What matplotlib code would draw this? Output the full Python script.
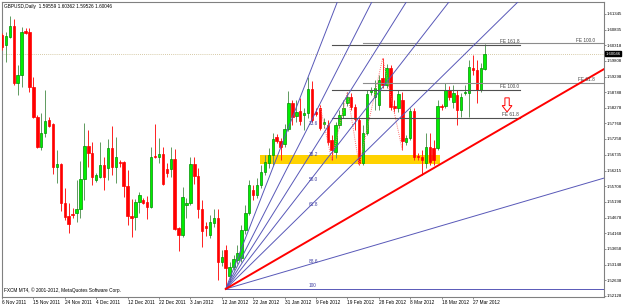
import numpy as np
import matplotlib
matplotlib.use("Agg")
import matplotlib.pyplot as plt
from matplotlib.patches import Rectangle, Polygon
import matplotlib.transforms as mtransforms

# --------------------------------------------------------------------
# GBPUSD daily candles (6 Nov 2011 .. 28 Mar 2012)
# --------------------------------------------------------------------
opens = [1.6066, 1.6033, 1.6059, 1.6095, 1.5909, 1.5935, 1.6079, 1.6075, 1.5896, 1.5797,
         1.5699, 1.5745, 1.5788, 1.5775, 1.5634, 1.5644, 1.5516, 1.5474, 1.5480, 1.5484,
         1.5497, 1.5595, 1.5703, 1.5680, 1.5591, 1.5601, 1.5640, 1.5631, 1.5696, 1.5634,
         1.5650, 1.5650, 1.5572, 1.5474, 1.5470, 1.5519, 1.5526, 1.5519, 1.5503, 1.5670,
         1.5667, 1.5676, 1.5627, 1.5627, 1.5660, 1.5434, 1.5412, 1.5510, 1.5516, 1.5644,
         1.5604, 1.5497, 1.5441, 1.5412, 1.5451, 1.5467, 1.5323, 1.5363, 1.5278, 1.5307,
         1.5330, 1.5336, 1.5428, 1.5484, 1.5559, 1.5542, 1.5575, 1.5618, 1.5647, 1.5673,
         1.5732, 1.5719, 1.5709, 1.5758, 1.5843, 1.5801, 1.5817, 1.5804, 1.5810, 1.5889,
         1.5814, 1.5827, 1.5775, 1.5771, 1.5722, 1.5683, 1.5771, 1.5804, 1.5843, 1.5863,
         1.5830, 1.5788, 1.5647, 1.5745, 1.5879, 1.5863, 1.5837, 1.5925, 1.5902, 1.5958,
         1.5833, 1.5827, 1.5853, 1.5716, 1.5729, 1.5817, 1.5670, 1.5667, 1.5647, 1.5699,
         1.5696, 1.5696, 1.5833, 1.5833, 1.5886, 1.5847, 1.5869, 1.5820, 1.5876, 1.5876,
         1.5958, 1.5951, 1.5886, 1.59559]
highs = [1.6072, 1.6075, 1.6128, 1.6118, 1.5967, 1.6092, 1.6088, 1.6088, 1.5928, 1.5804,
         1.5810, 1.5886, 1.5797, 1.5778, 1.5690, 1.5647, 1.5565, 1.5516, 1.5500, 1.5591,
         1.5654, 1.5778, 1.5755, 1.5716, 1.5614, 1.5716, 1.5667, 1.5725, 1.5768, 1.5732,
         1.5657, 1.5654, 1.5624, 1.5529, 1.5529, 1.5552, 1.5533, 1.5539, 1.5699, 1.5775,
         1.5729, 1.5699, 1.5647, 1.5699, 1.5693, 1.5438, 1.5569, 1.5533, 1.5667, 1.5667,
         1.5631, 1.5526, 1.5454, 1.5477, 1.5497, 1.5497, 1.5363, 1.5379, 1.5323, 1.5346,
         1.5379, 1.5444, 1.5510, 1.5591, 1.5575, 1.5598, 1.5640, 1.5673, 1.5696, 1.5745,
         1.5742, 1.5729, 1.5775, 1.5882, 1.5853, 1.5853, 1.5860, 1.5827, 1.5928, 1.5915,
         1.5827, 1.5837, 1.5794, 1.5788, 1.5739, 1.5781, 1.5820, 1.5853, 1.5879, 1.5876,
         1.5840, 1.5794, 1.5771, 1.5886, 1.5896, 1.5918, 1.5935, 1.5990, 1.5971, 1.5967,
         1.5853, 1.5886, 1.5879, 1.5739, 1.5827, 1.5827, 1.5680, 1.5690, 1.5745, 1.5745,
         1.5722, 1.5853, 1.5840, 1.5909, 1.5899, 1.5902, 1.5886, 1.5876, 1.5902, 1.5984,
         1.6000, 1.5984, 1.5974, 1.60362]
lows = [1.6017, 1.5977, 1.6056, 1.5902, 1.5869, 1.5896, 1.6069, 1.5879, 1.5794, 1.5696,
        1.5690, 1.5732, 1.5765, 1.5611, 1.5582, 1.5490, 1.5461, 1.5418, 1.5467, 1.5454,
        1.5467, 1.5526, 1.5634, 1.5575, 1.5585, 1.5598, 1.5559, 1.5591, 1.5608, 1.5582,
        1.5634, 1.5536, 1.5444, 1.5405, 1.5428, 1.5484, 1.5513, 1.5464, 1.5500, 1.5663,
        1.5647, 1.5575, 1.5601, 1.5601, 1.5428, 1.5359, 1.5405, 1.5467, 1.5510, 1.5578,
        1.5467, 1.5372, 1.5408, 1.5402, 1.5438, 1.5264, 1.5310, 1.5235, 1.5258, 1.5297,
        1.5317, 1.5323, 1.5415, 1.5477, 1.5526, 1.5533, 1.5565, 1.5608, 1.5631, 1.5640,
        1.5712, 1.5657, 1.5699, 1.5752, 1.5771, 1.5781, 1.5771, 1.5755, 1.5794, 1.5781,
        1.5801, 1.5755, 1.5761, 1.5706, 1.5657, 1.5663, 1.5761, 1.5794, 1.5833, 1.5820,
        1.5755, 1.5640, 1.5640, 1.5739, 1.5869, 1.5820, 1.5820, 1.5892, 1.5892, 1.5820,
        1.5814, 1.5814, 1.5690, 1.5706, 1.5722, 1.5657, 1.5657, 1.5608, 1.5631, 1.5640,
        1.5640, 1.5690, 1.5820, 1.5827, 1.5853, 1.5827, 1.5771, 1.5797, 1.5869, 1.5797,
        1.5935, 1.5843, 1.5879, 1.59526]
closes = [1.6026, 1.6062, 1.6095, 1.5909, 1.5935, 1.6075, 1.6072, 1.5896, 1.5797, 1.5699,
          1.5745, 1.5784, 1.5768, 1.5634, 1.5644, 1.5516, 1.5470, 1.5448, 1.5477, 1.5497,
          1.5595, 1.5703, 1.5680, 1.5601, 1.5608, 1.5640, 1.5601, 1.5696, 1.5634, 1.5667,
          1.5647, 1.5572, 1.5474, 1.5467, 1.5519, 1.5542, 1.5516, 1.5503, 1.5667, 1.5667,
          1.5676, 1.5578, 1.5614, 1.5660, 1.5431, 1.5412, 1.5536, 1.5516, 1.5644, 1.5604,
          1.5497, 1.5425, 1.5434, 1.5454, 1.5467, 1.5323, 1.5340, 1.5304, 1.5307, 1.5333,
          1.5353, 1.5428, 1.5484, 1.5575, 1.5542, 1.5575, 1.5618, 1.5650, 1.5673, 1.5725,
          1.5719, 1.5699, 1.5758, 1.5843, 1.5797, 1.5814, 1.5784, 1.5810, 1.5889, 1.5788,
          1.5807, 1.5761, 1.5781, 1.5716, 1.5690, 1.5771, 1.5804, 1.5827, 1.5863, 1.5830,
          1.5791, 1.5647, 1.5745, 1.5873, 1.5886, 1.5892, 1.5918, 1.5902, 1.5958, 1.5830,
          1.5827, 1.5873, 1.5719, 1.5729, 1.5817, 1.5667, 1.5667, 1.5657, 1.5699, 1.5650,
          1.5657, 1.5833, 1.5830, 1.5886, 1.5863, 1.5876, 1.5820, 1.5863, 1.5879, 1.5961,
          1.5951, 1.5886, 1.5958, 1.60046]

date_labels = ["6 Nov 2011", "15 Nov 2011", "24 Nov 2011", "4 Dec 2011", "12 Dec 2011",
               "22 Dec 2011", "3 Jan 2012", "12 Jan 2012", "22 Jan 2012", "31 Jan 2012",
               "9 Feb 2012", "19 Feb 2012", "28 Feb 2012", "8 Mar 2012", "18 Mar 2012",
               "27 Mar 2012"]
date_step = 8
price_ticks = [1.61345, 1.60835, 1.60318, 1.59808, 1.59298, 1.58788, 1.58278, 1.57768,
               1.57258, 1.56735, 1.56215, 1.55708, 1.55198, 1.54678, 1.54168, 1.53658,
               1.53148, 1.52638, 1.52128]

# Fibonacci fan: low of bar 57 -> high of bar 78
fan_bar1, fan_bar2 = 57, 78
fan_levels = [0.0, 23.6, 38.2, 50.0, 61.8, 88.6, 100.0]
fan_labels = ["", "23.6", "38.2", "50.0", "61.8", "88.6", "100"]

# red trend line through two lows
trend_bars = [57, 107]

# Fibonacci expansions
fe_a_prices = [1.5794, 1.5886, 1.6033]
fe_a_labels = ["FE 61.8", "FE 100.0", "FE 161.8"]
fe_a_span = (84, 132)
fe_b_prices = [1.5909, 1.6039]
fe_b_labels = ["FE 61.8", "FE 100.0"]
fe_b_start = 92

# support zone
zone_bars = (65.7, 111.5)
zone_prices = (1.5644, 1.5673)

# zigzag swing points
zz_bars = [81, 84, 88, 91, 97, 102]
zz_kind = ["H", "L", "H", "L", "H", "L"]

# down arrow marker
arrow_bar, arrow_top, arrow_bottom = 128.7, 1.5860, 1.5814

XMIN, XMAX = 0.0, 153.4
YMIN, YMAX = 1.52088, 1.61735

FONT = ["Liberation Sans", "DejaVu Sans"]
FS = 3.4
FS_Y = 3.1

o = np.array(opens); h = np.array(highs); l = np.array(lows); c = np.array(closes)
idx = np.arange(len(o))
up = c >= o

fig = plt.figure(figsize=(6.25, 3.06), dpi=100)
ax = fig.add_axes([2 / 625, 9 / 306, 602 / 625, 295 / 306])
ax.set_xlim(XMIN, XMAX)
ax.set_ylim(YMIN, YMAX)

# zone
ax.add_patch(Rectangle((zone_bars[0], zone_prices[0]), zone_bars[1] - zone_bars[0],
                       zone_prices[1] - zone_prices[0], facecolor="#ffd200",
                       edgecolor="none", zorder=1))

# current price line
ax.axhline(c[-1], color="#c8b98a", lw=0.6, ls=(0, (1, 1.5)), zorder=1)

# candles
wick_col = np.where(up, "#5f9a5f", "#ff2020")
ax.vlines(idx, l, h, colors=wick_col, lw=0.7, zorder=3)
body_low = np.minimum(o, c)
body_h = np.maximum(np.abs(c - o), 0.00012)
ax.bar(idx, body_h, bottom=body_low, width=0.62,
       color=np.where(up, "#00ee00", "#ff0000"),
       edgecolor=np.where(up, "#009000", "#ff0000"), linewidth=0.5, zorder=4)

# zigzag
zz_y = [h[b] if k == "H" else l[b] for b, k in zip(zz_bars, zz_kind)]
ax.plot(zz_bars, zz_y, color="#ff7070", lw=0.7, ls=(0, (1, 1.2)), zorder=5)

# fibonacci fan
p1, p2 = l[fan_bar1], h[fan_bar2]
xs = np.array([fan_bar1, XMAX + 5])
for lev, lab in zip(fan_levels, fan_labels):
    target = p2 - lev / 100 * (p2 - p1)
    slope = (target - p1) / (fan_bar2 - fan_bar1)
    ax.plot(xs, p1 + slope * (xs - fan_bar1), color="#5858b8", lw=0.7, zorder=6)
    if lab:
        ax.text(fan_bar2 + 0.2, target + 0.0003, lab, fontsize=FS, family=FONT,
                color="#3c3ca0", ha="left", va="bottom", zorder=7)

# red trend line
tb0, tb1 = trend_bars
tslope = (l[tb1] - l[tb0]) / (tb1 - tb0)
ax.plot(xs, l[tb0] + tslope * (xs - tb0), color="#ff0000", lw=1.4, zorder=6)

# fibonacci expansions
for p, lab in zip(fe_a_prices, fe_a_labels):
    ax.plot(fe_a_span, [p, p], color="#505050", lw=0.8, zorder=5)
    ax.text(fe_a_span[1] - 0.2, p + 0.0002, lab, fontsize=FS, family=FONT,
            color="#404040", ha="right", va="bottom", zorder=7)
for p, lab in zip(fe_b_prices, fe_b_labels):
    ax.plot([fe_b_start, XMAX], [p, p], color="#8c8c8c", lw=0.8, zorder=5)
    ax.text(XMAX - 2.2, p + 0.0002, lab, fontsize=FS, family=FONT,
            color="#404040", ha="right", va="bottom", zorder=7)

# hollow down arrow
hw, sw = 1.25, 0.55
mid = arrow_top - 0.55 * (arrow_top - arrow_bottom)
arrow = Polygon([(arrow_bar - sw, arrow_top), (arrow_bar + sw, arrow_top),
                 (arrow_bar + sw, mid), (arrow_bar + hw, mid),
                 (arrow_bar, arrow_bottom), (arrow_bar - hw, mid),
                 (arrow_bar - sw, mid)], closed=True, fill=False,
                edgecolor="#ff0000", lw=0.7, zorder=7)
ax.add_patch(arrow)

# texts
ax.text(0.004, 0.993, "GBPUSD,Daily  1.59559 1.60362 1.59526 1.60046",
        transform=ax.transAxes, fontsize=FS, family=FONT, ha="left", va="top")
ax.text(0.004, 0.012, "FXCM MT4, \u00a9 2001-2012, MetaQuotes Software Corp.",
        transform=ax.transAxes, fontsize=FS, family=FONT, ha="left", va="bottom")

# axes styling
for s in ax.spines.values():
    s.set_color("#808080")
    s.set_linewidth(0.8)
ax.yaxis.tick_right()
ax.set_yticks(price_ticks)
ax.set_yticklabels([f"{v:.5f}" for v in price_ticks], fontsize=FS_Y, family=FONT)
ax.set_xticks(np.arange(len(date_labels)) * date_step)
ax.set_xticklabels(date_labels, fontsize=FS, family=FONT)
for t in ax.get_xticklabels():
    t.set_ha("left")
ax.tick_params(axis="both", length=1.2, width=0.5, color="#606060", pad=0.6)

trans = mtransforms.blended_transform_factory(ax.transAxes, ax.transData)
ax.text(1.002, c[-1], f"{c[-1]:.5f}", transform=trans, fontsize=FS_Y, family=FONT,
        color="white", ha="left", va="center", clip_on=False, zorder=10,
        bbox=dict(facecolor="black", edgecolor="black", pad=0.3))

fig.savefig("out.png", dpi=100, facecolor="white")
